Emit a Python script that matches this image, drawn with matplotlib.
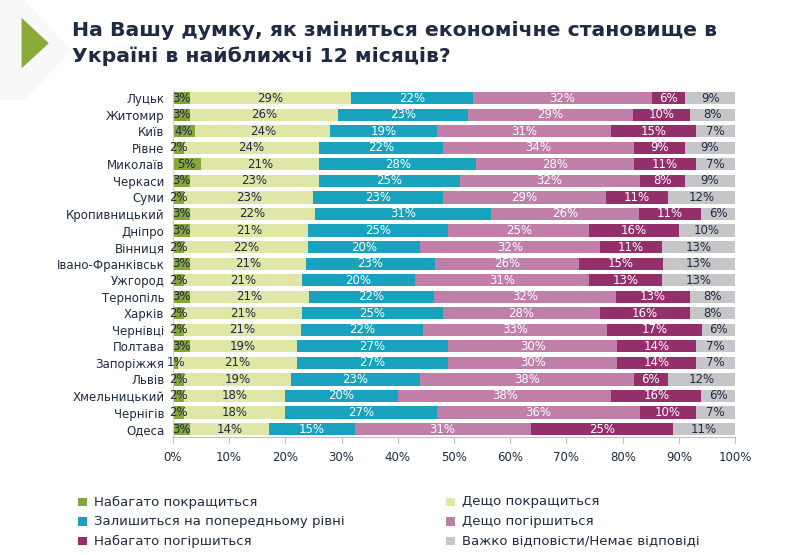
import numpy as np
import matplotlib
matplotlib.use("Agg")
import matplotlib.pyplot as plt
from matplotlib.patches import Polygon, Rectangle

plt.rcParams['font.family'] = ['DejaVu Sans']

# cities, top to bottom
cities = ["Луцьк", "Житомир", "Київ", "Рівне", "Миколаїв", "Черкаси", "Суми",
          "Кропивницький", "Дніпро", "Вінниця", "Івано-Франківськ", "Ужгород",
          "Тернопіль", "Харків", "Чернівці", "Полтава", "Запоріжжя", "Львів",
          "Хмельницький", "Чернігів", "Одеса"]

much_better = [3, 3, 4, 2, 5, 3, 2, 3, 3, 2, 3, 2, 3, 2, 2, 3, 1, 2, 2, 2, 3]
bit_better = [29, 26, 24, 24, 21, 23, 23, 22, 21, 22, 21, 21, 21, 21, 21, 19, 21, 19, 18, 18, 14]
same = [22, 23, 19, 22, 28, 25, 23, 31, 25, 20, 23, 20, 22, 25, 22, 27, 27, 23, 20, 27, 15]
bit_worse = [32, 29, 31, 34, 28, 32, 29, 26, 25, 32, 26, 31, 32, 28, 33, 30, 30, 38, 38, 36, 31]
much_worse = [6, 10, 15, 9, 11, 8, 11, 11, 16, 11, 15, 13, 13, 16, 17, 14, 14, 6, 16, 10, 25]
hard_to_say = [9, 8, 7, 9, 7, 9, 12, 6, 10, 13, 13, 13, 8, 8, 6, 7, 7, 12, 6, 7, 11]

series_names = ["Набагато покращиться", "Дещо покращиться",
                "Залишиться на попередньому рівні", "Дещо погіршиться",
                "Набагато погіршиться", "Важко відповісти/Немає відповіді"]
colors = ["#86a63a", "#dfe6a6", "#18a2bd", "#c07fa9", "#93306b", "#c6c6c8"]
text_colors = ["#1f2a44", "#1f2a44", "white", "white", "white", "#1f2a44"]

data = np.array([much_better, bit_better, same, bit_worse, much_worse, hard_to_say], dtype=float)
shares = data / data.sum(axis=0) * 100  # rounded values -> bars sum to 100%

fig = plt.figure(figsize=(8, 5.55), dpi=100)
ax = fig.add_axes([0.216, 0.212, 0.703, 0.626])

# slide decoration
fig.patches.append(Polygon([[0, 1], [0.03, 1], [0.09, 0.91], [0.03, 0.82], [0, 0.82]],
                           closed=True, transform=fig.transFigure, facecolor="#f8f8f8",
                           edgecolor="none", zorder=0))
fig.patches.append(Polygon([[0.027, 0.968], [0.027, 0.877], [0.061, 0.922]], closed=True,
                           transform=fig.transFigure, facecolor="#8aaa3a",
                           edgecolor="none", zorder=1))

fig.text(0.09, 0.962, "На Вашу думку, як зміниться економічне становище в\nУкраїні в найближчі 12 місяців?",
         fontsize=14.7, fontweight="bold", color="#1f2a44", va="top", ha="left", linespacing=1.42)

y = np.arange(len(cities))
left = np.zeros(len(cities))
for i in range(6):
    ax.barh(y, shares[i], left=left, height=0.74, color=colors[i], edgecolor="none")
    for j in range(len(cities)):
        ax.text(left[j] + shares[i][j] / 2, y[j], f"{int(data[i][j])}%", ha="center",
                va="center", fontsize=8.5, color=text_colors[i])
    left += shares[i]

ax.set_xlim(0, 100)
ax.set_ylim(len(cities) - 0.5, -0.5)
ax.set_yticks(y)
ax.set_yticklabels(cities, fontsize=8.5, color="#1f2a44")
ax.set_xticks(np.arange(0, 101, 10))
ax.set_xticklabels([f"{v}%" for v in range(0, 101, 10)], fontsize=8.5, color="#1f2a44")
ax.tick_params(axis="y", length=0, pad=6)
ax.tick_params(axis="x", length=4, color="#bfbfbf", pad=6)
for s in ["top", "right"]:
    ax.spines[s].set_visible(False)
ax.spines["left"].set_color("#d0d0d0")
ax.spines["bottom"].set_color("#bfbfbf")

# legend, two columns
order = [0, 2, 4, 1, 3, 5]
for k, idx in enumerate(order):
    col, row = divmod(k, 3)
    x0 = 0.098 if col == 0 else 0.558
    yy = 1 - (502 + row * 19.5) / 555
    fig.patches.append(Rectangle((x0, yy - 0.008), 0.011, 0.016, transform=fig.transFigure,
                                 facecolor=colors[idx], edgecolor="none"))
    fig.text(x0 + 0.02, yy, series_names[idx], fontsize=9.5, color="#1f2a44",
             va="center", ha="left")

fig.savefig("out.png", dpi=100, facecolor="white")
